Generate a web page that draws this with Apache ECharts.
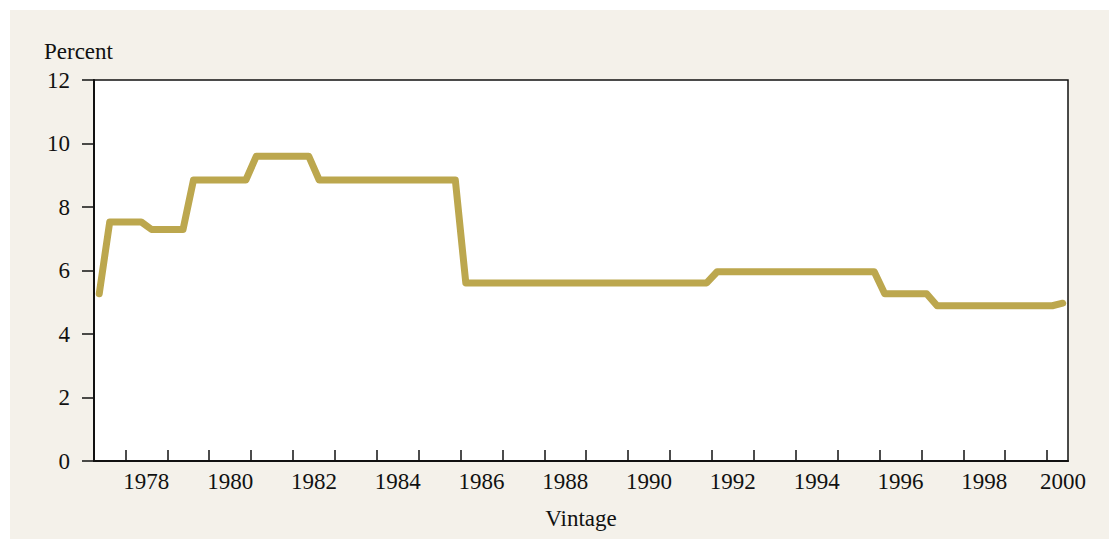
<!DOCTYPE html>
<html>
<head>
<meta charset="utf-8">
<script src="https://cdn.jsdelivr.net/npm/echarts@6/dist/echarts.min.js"></script>
<style>
  html, body { margin: 0; padding: 0; background: #ffffff; }
  #chart { width: 1119px; height: 539px; }
</style>
</head>
<body>
<div id="chart"></div>
<script>
// quarterly rates, 1977Q2 .. 2000Q2
var rates = [
  5.27,
  7.53, 7.53, 7.53, 7.53,
  7.29, 7.29, 7.29, 7.29,
  8.85, 8.85, 8.85, 8.85, 8.85, 8.85,
  9.6, 9.6, 9.6, 9.6, 9.6, 9.6,
  8.85, 8.85, 8.85, 8.85, 8.85, 8.85, 8.85, 8.85, 8.85, 8.85, 8.85, 8.85, 8.85, 8.85,
  5.61, 5.61, 5.61, 5.61, 5.61, 5.61, 5.61, 5.61, 5.61, 5.61, 5.61, 5.61,
  5.61, 5.61, 5.61, 5.61, 5.61, 5.61, 5.61, 5.61, 5.61, 5.61, 5.61, 5.61,
  5.96, 5.96, 5.96, 5.96, 5.96, 5.96, 5.96, 5.96,
  5.96, 5.96, 5.96, 5.96, 5.96, 5.96, 5.96, 5.96,
  5.27, 5.27, 5.27, 5.27, 5.27,
  4.89, 4.89, 4.89, 4.89, 4.89, 4.89, 4.89, 4.89, 4.89, 4.89, 4.89, 4.89,
  4.97
];
var firstYear = 1977, firstQuarter = 2;
var tickYears = [1978, 1979, 1980, 1981, 1982, 1983, 1984, 1985, 1986, 1987, 1988,
  1989, 1990, 1991, 1992, 1993, 1994, 1995, 1996, 1997, 1998, 1999, 2000];
var labelYears = [1978, 1980, 1982, 1984, 1986, 1988, 1990, 1992, 1994, 1996, 1998, 2000];
var yTicks = [0, 2, 4, 6, 8, 10, 12];

// quarter labels, and quarter midpoints as fractional years
var quarters = [];
var points = [];
for (var i = 0; i < rates.length; i++) {
  var q = firstQuarter - 1 + i;
  var yr = firstYear + Math.floor(q / 4);
  var qq = (q % 4) + 1;
  quarters.push(yr + 'Q' + qq);
  points.push([yr + (qq - 0.5) / 4, rates[i]]);
}
var xMin = firstYear + (firstQuarter - 1) / 4;
var xMax = points[points.length - 1][0] + 0.125;

var font = '"Liberation Serif", "DejaVu Serif", serif';
var myChart = echarts.init(document.getElementById('chart'), null, { renderer: 'svg' });

var option = {
  backgroundColor: '#ffffff',
  animation: false,
  graphic: [
    {
      type: 'rect', z: -10, silent: true,
      shape: { x: 10, y: 10, width: 1099, height: 529 },
      style: { fill: '#f4f1ea' }
    },
    {
      type: 'text', left: 44, top: 40,
      style: { text: 'Percent', fontFamily: font, fontSize: 23, fill: '#111' }
    }
  ],
  grid: {
    left: 94, top: 80, width: 974, height: 381,
    outerBoundsMode: 'none',
    show: true, backgroundColor: '#ffffff',
    borderColor: '#111', borderWidth: 1.5
  },
  xAxis: {
    type: 'value',
    min: xMin, max: xMax,
    name: 'Vintage', nameLocation: 'middle', nameGap: 46,
    nameTextStyle: { fontFamily: font, fontSize: 23, color: '#111' },
    axisLine: { lineStyle: { color: '#111', width: 2 } },
    axisTick: {
      inside: true, length: 11,
      customValues: tickYears,
      lineStyle: { color: '#111', width: 1.5 }
    },
    axisLabel: {
      customValues: labelYears.map(function (y) { return Math.min(y + 0.5, xMax - 0.12); }),
      formatter: function (v) { return String(Math.floor(v)); },
      fontFamily: font, fontSize: 23, color: '#111', margin: 9
    },
    splitLine: { show: false }
  },
  yAxis: {
    type: 'value',
    min: 0, max: 12, interval: 2,
    axisLine: { show: true, lineStyle: { color: '#111', width: 2 } },
    axisTick: { show: true, length: 12, customValues: yTicks, lineStyle: { color: '#111', width: 1.5 } },
    axisLabel: { fontFamily: font, fontSize: 23, color: '#111', margin: 24 },
    splitLine: { show: false }
  },
  series: [
    {
      name: 'Rate',
      type: 'line',
      data: points,
      showSymbol: false,
      symbol: 'none',
      lineStyle: { color: '#bca74e', width: 7, cap: 'round', join: 'round' }
    }
  ]
};
myChart.setOption(option);
</script>
</body>
</html>
